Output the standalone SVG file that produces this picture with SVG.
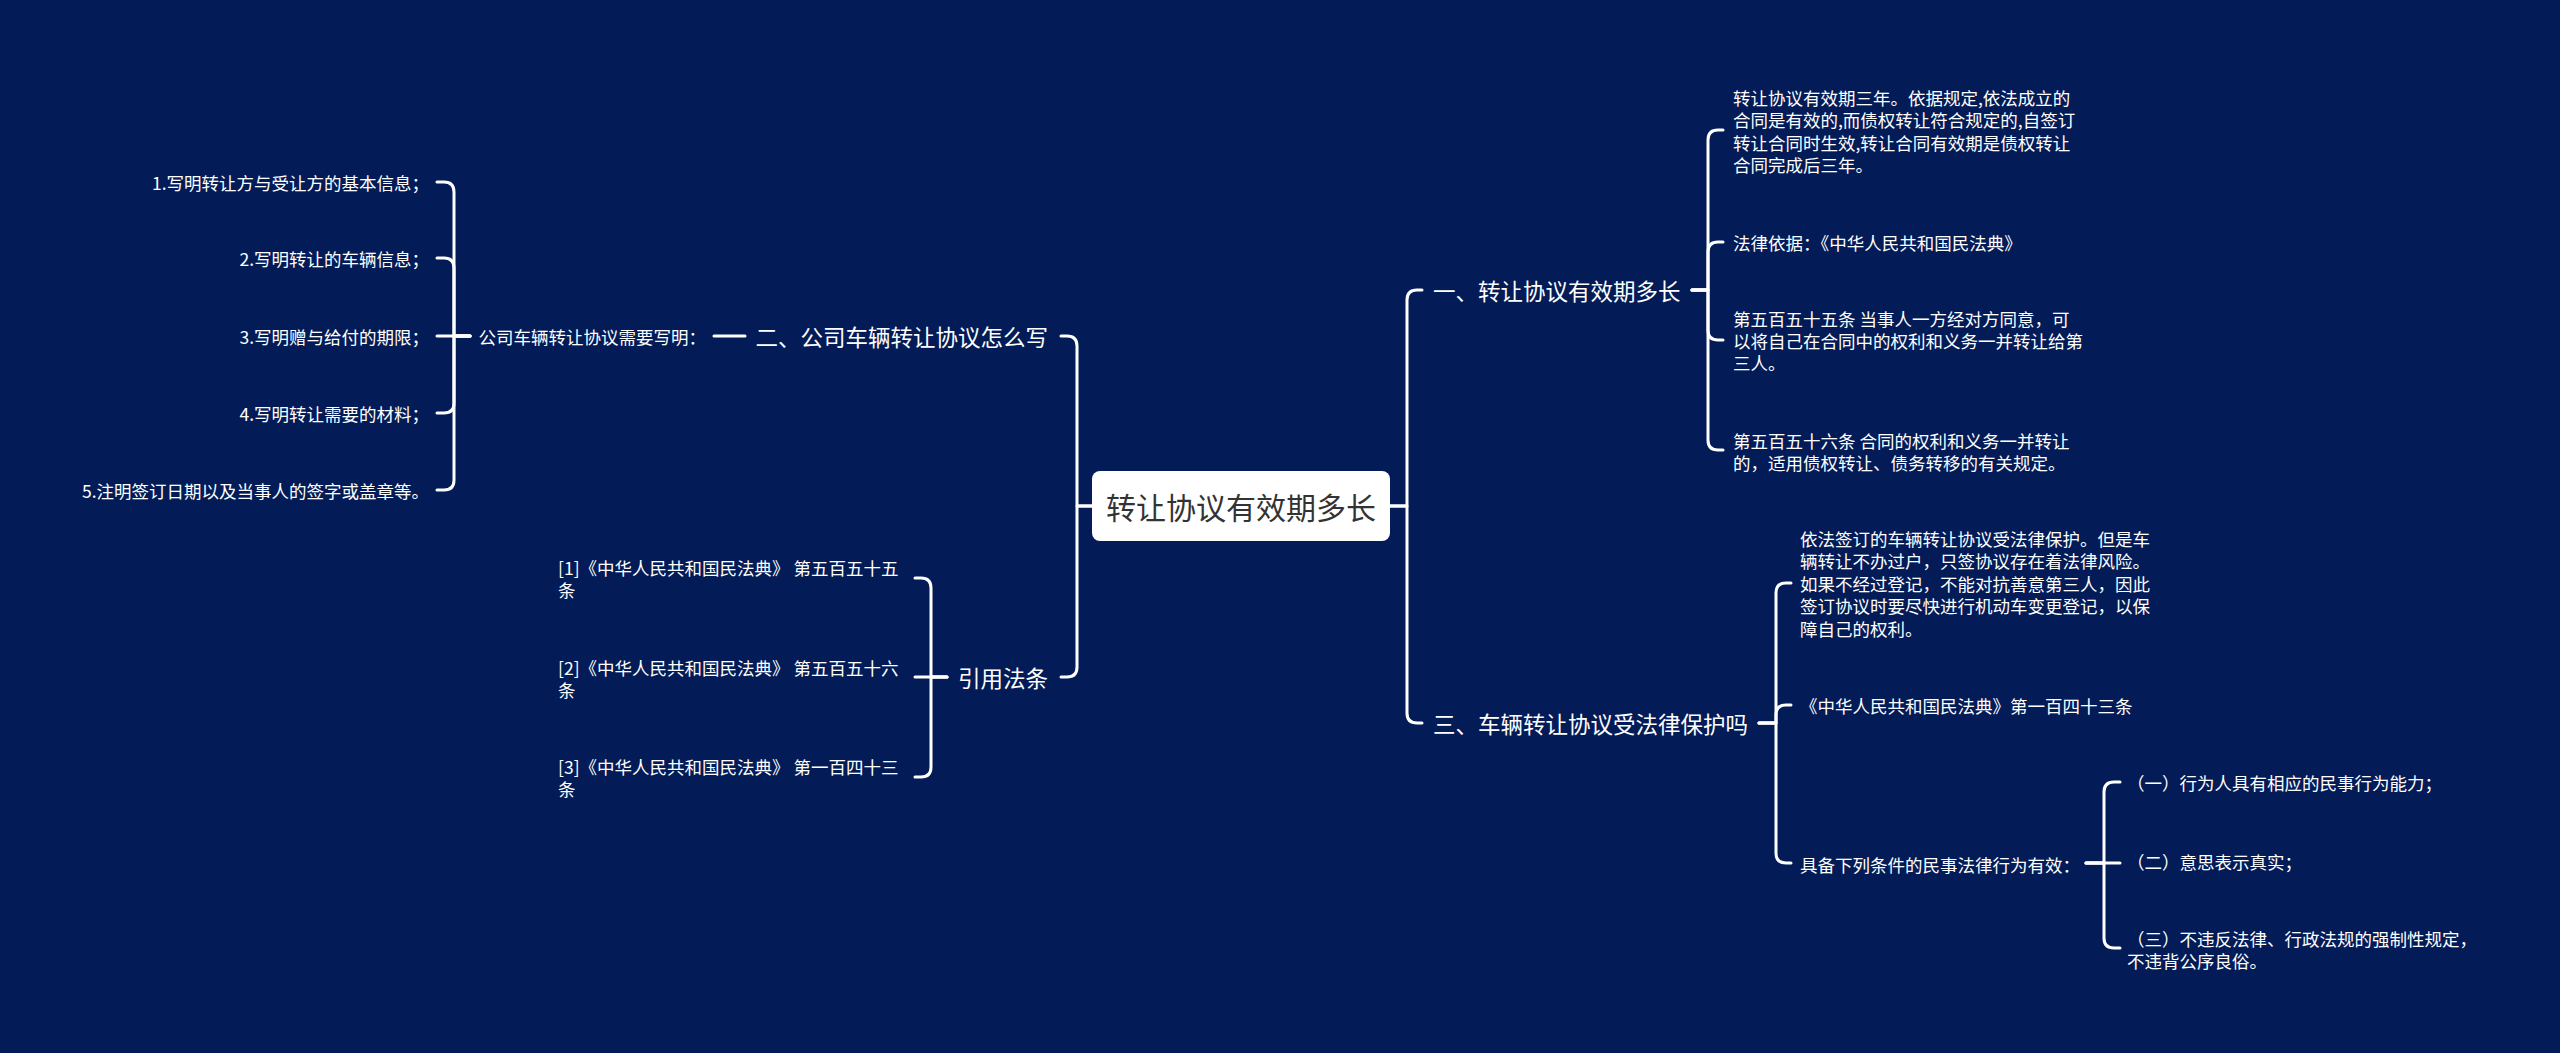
<svg xmlns="http://www.w3.org/2000/svg" width="2560" height="1053" viewBox="0 0 2560 1053">
<style>
text{font-family:"Microsoft YaHei","Noto Sans CJK SC","Noto Sans",sans-serif;fill:#ffffff;dominant-baseline:central}
.leaf{font-size:17.5px}
.branch{font-size:22.5px}
.root{font-size:30px;fill:#333333}
.end{text-anchor:end}
.ln{fill:none;stroke:#ffffff;stroke-width:3;stroke-linecap:round;stroke-linejoin:round}
</style>
<rect x="0" y="0" width="2560" height="1053" fill="#031c57"/>
<g id="connectors" class="ln">
<path d="M1092,506 H1077 V346 Q1077,336 1067,336 H1061"/>
<path d="M1092,506 H1077 V667 Q1077,677 1067,677 H1061"/>
<path d="M1390,506 H1407 V300 Q1407,290 1417,290 H1422"/>
<path d="M1390,506 H1407 V713 Q1407,723 1417,723 H1422"/>
<path d="M745,336 H714"/>
<path d="M470,336 H454 V192 Q454,182 444,182 H437"/>
<path d="M470,336 H454 V268 Q454,258 444,258 H437"/>
<path d="M470,336 H437"/>
<path d="M470,336 H454 V403 Q454,413 444,413 H437"/>
<path d="M470,336 H454 V480 Q454,490 444,490 H437"/>
<path d="M947,677 H931 V588 Q931,578 921,578 H915"/>
<path d="M947,677 H915"/>
<path d="M947,677 H931 V767 Q931,777 921,777 H915"/>
<path d="M1692,290 H1708 V140 Q1708,130 1718,130 H1723"/>
<path d="M1692,290 H1708 V252 Q1708,242 1718,242 H1723"/>
<path d="M1692,290 H1708 V330 Q1708,340 1718,340 H1723"/>
<path d="M1692,290 H1708 V440 Q1708,450 1718,450 H1723"/>
<path d="M1759,723 H1776 V593 Q1776,583 1786,583 H1791"/>
<path d="M1759,723 H1776 V715 Q1776,705 1786,705 H1791"/>
<path d="M1759,723 H1776 V853 Q1776,863 1786,863 H1791"/>
<path d="M2086,863 H2104 V792 Q2104,782 2114,782 H2120"/>
<path d="M2086,863 H2120"/>
<path d="M2086,863 H2104 V938 Q2104,948 2114,948 H2120"/>
</g>
<g id="root">
<rect x="1092" y="471" width="298" height="70" rx="8" fill="#ffffff"/>
<text class="root" x="1241" y="506" text-anchor="middle">转让协议有效期多长</text>
</g>
<g id="b2">
<text class="branch end" x="1048" y="336">二、公司车辆转让协议怎么写</text>
</g>
<g id="b2c">
<text class="leaf end" x="706" y="336">公司车辆转让协议需要写明：</text>
</g>
<g id="i1"><text class="leaf end" x="429" y="182">1.写明转让方与受让方的基本信息；</text></g>
<g id="i2"><text class="leaf end" x="429" y="258">2.写明转让的车辆信息；</text></g>
<g id="i3"><text class="leaf end" x="429" y="336">3.写明赠与给付的期限；</text></g>
<g id="i4"><text class="leaf end" x="429" y="413">4.写明转让需要的材料；</text></g>
<g id="i5"><text class="leaf end" x="429" y="490">5.注明签订日期以及当事人的签字或盖章等。</text></g>
<g id="cite">
<text class="branch end" x="1048" y="677">引用法条</text>
</g>
<g id="c1"><text class="leaf" x="558" y="567">[1]《中华人民共和国民法典》 第五百五十五</text><text class="leaf" x="558" y="589">条</text></g>
<g id="c2"><text class="leaf" x="558" y="667">[2]《中华人民共和国民法典》 第五百五十六</text><text class="leaf" x="558" y="689">条</text></g>
<g id="c3"><text class="leaf" x="558" y="766">[3]《中华人民共和国民法典》 第一百四十三</text><text class="leaf" x="558" y="788">条</text></g>
<g id="b1">
<text class="branch" x="1433" y="290">一、转让协议有效期多长</text>
</g>
<g id="r1"><text class="leaf" x="1733" y="97">转让协议有效期三年。依据规定,依法成立的</text><text class="leaf" x="1733" y="119.5">合同是有效的,而债权转让符合规定的,自签订</text><text class="leaf" x="1733" y="142">转让合同时生效,转让合同有效期是债权转让</text><text class="leaf" x="1733" y="164.5">合同完成后三年。</text></g>
<g id="r2"><text class="leaf" x="1733" y="242">法律依据：《中华人民共和国民法典》</text></g>
<g id="r3"><text class="leaf" x="1733" y="318">第五百五十五条 当事人一方经对方同意，可</text><text class="leaf" x="1733" y="340">以将自己在合同中的权利和义务一并转让给第</text><text class="leaf" x="1733" y="362">三人。</text></g>
<g id="r4"><text class="leaf" x="1733" y="440">第五百五十六条 合同的权利和义务一并转让</text><text class="leaf" x="1733" y="462">的，适用债权转让、债务转移的有关规定。</text></g>
<g id="b3">
<text class="branch" x="1433" y="723">三、车辆转让协议受法律保护吗</text>
</g>
<g id="s1"><text class="leaf" x="1800" y="538">依法签订的车辆转让协议受法律保护。但是车</text><text class="leaf" x="1800" y="560.5">辆转让不办过户，只签协议存在着法律风险。</text><text class="leaf" x="1800" y="583">如果不经过登记，不能对抗善意第三人，因此</text><text class="leaf" x="1800" y="605.5">签订协议时要尽快进行机动车变更登记，以保</text><text class="leaf" x="1800" y="628">障自己的权利。</text></g>
<g id="s2"><text class="leaf" x="1800" y="705">《中华人民共和国民法典》第一百四十三条</text></g>
<g id="s3"><text class="leaf" x="1800" y="864">具备下列条件的民事法律行为有效：</text></g>
<g id="t1"><text class="leaf" x="2127" y="782">（一）行为人具有相应的民事行为能力；</text></g>
<g id="t2"><text class="leaf" x="2127" y="861">（二）意思表示真实；</text></g>
<g id="t3"><text class="leaf" x="2127" y="938">（三）不违反法律、行政法规的强制性规定，</text><text class="leaf" x="2127" y="960">不违背公序良俗。</text></g>
</svg>
